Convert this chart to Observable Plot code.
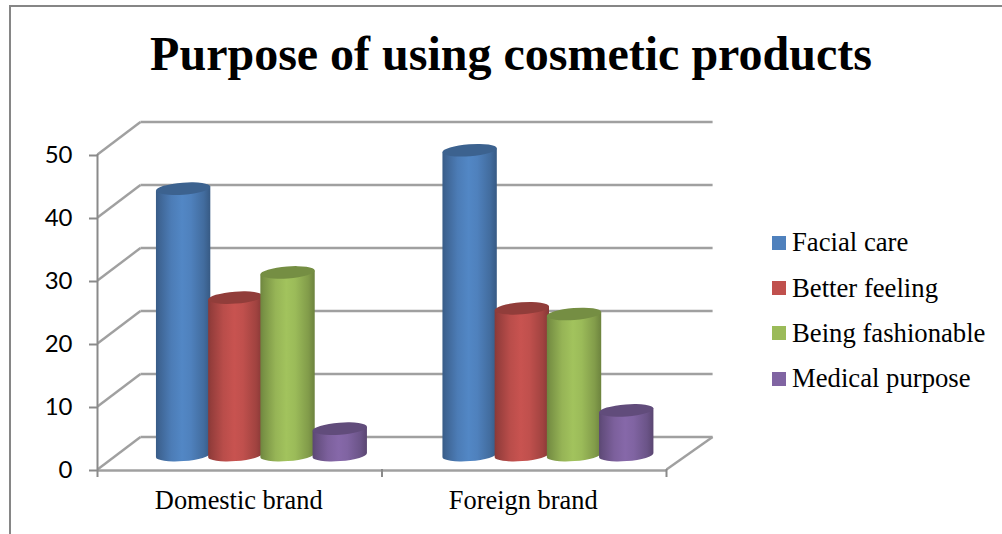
<!DOCTYPE html>
<html>
<head>
<meta charset="utf-8">
<script src="https://cdn.jsdelivr.net/npm/d3@7"></script>
<script src="https://cdn.jsdelivr.net/npm/@observablehq/plot@0.6"></script>
<style>
  html, body { margin: 0; padding: 0; background: #fff; width: 1002px; height: 534px; overflow: hidden; }
  #frame { position: absolute; left: 9px; top: 5px; right: 0; bottom: 0; border-left: 2px solid #868686; border-top: 2px solid #868686; }
  #title { position: absolute; left: 0; top: 27px; width: 1022px; text-align: center; font: bold 48px "Liberation Serif", serif; color: #000; line-height: 54px; }
  #chart { position: absolute; left: 0; top: 0; }
  #legend { position: absolute; left: 772px; top: 220px; font: 26.7px "Liberation Serif", serif; color: #000; }
  #legend div { display: flex; align-items: center; height: 45.4px; white-space: nowrap; }
  #legend i { display: block; width: 14px; height: 14px; margin-right: 6px; }
</style>
</head>
<body>
<div id="frame"></div>
<div id="title">Purpose of using cosmetic products</div>
<div id="chart"></div>
<div id="legend"></div>
<script>
const categories = ["Domestic brand", "Foreign brand"];
const series = ["Facial care", "Better feeling", "Being fashionable", "Medical purpose"];
const colors = ["#4f81bd", "#c0504d", "#9bbb59", "#8064a2"];
const domesticValues = [42.3, 25, 29, 4.2];
const foreignValues = [48.4, 23.3, 22.4, 7.1];
const yTicks = [0, 10, 20, 30, 40, 50];

// Depth of the 3D box, in data units of the x and y scales.
const depthX = 0.151;
const depthY = 5.15;
const wallEnd = 2.162;
// Placement of the cylinders on the middle of the floor.
const floorX = 0.078;
const floorY = 2.2;
const groupStep = 1.007;
const slot = 0.1835;
const cylinderWidth = 0.1916;

const rows = [domesticValues, foreignValues].flatMap((values, c) =>
  values.map((value, s) => ({category: categories[c], c, series: series[s], s, value}))
);
const center = (d) => d.c * groupStep + 0.5 + floorX + (d.s - 1.5) * slot;

const gridColor = "#a0a0a0";
const axisColor = "#8a8a8a";

// Draws each rect as a shaded cylinder with a tilted elliptical cap.
function cylinders(index, scales, values) {
  const g = d3.create("svg:g");
  const defs = g.append("defs");
  const tilt = 4.3;
  const rad = tilt * Math.PI / 180;
  const ry = 6;
  const gradients = new Map();
  const gradientFor = (c) => {
    if (!gradients.has(c)) {
      const id = `side-${gradients.size}`;
      const base = d3.rgb(c);
      const grad = defs.append("linearGradient").attr("id", id).attr("x1", 0).attr("x2", 1).attr("y1", 0).attr("y2", 0);
      [[0, base.darker(0.95)], [0.06, base.darker(0.7)], [0.28, base.darker(0.1)], [0.48, base.brighter(0.12)],
       [0.64, base], [0.88, base.darker(0.5)], [1, base.darker(1)]]
        .forEach(([o, col]) => grad.append("stop").attr("offset", o).attr("stop-color", col.formatHex()));
      gradients.set(c, id);
    }
    return gradients.get(c);
  };
  for (const i of index) {
    const left = values.x1[i], right = values.x2[i];
    const base = values.y1[i], top = values.y2[i];
    const cx = (left + right) / 2, rx = (right - left) / 2;
    const ox = rx * Math.cos(rad), oy = rx * Math.sin(rad);
    const fill = values.fill[i];
    g.append("path")
      .attr("d", `M${cx - ox},${top + oy}L${cx - ox},${base + oy}A${rx},${ry} ${-tilt} 0 0 ${cx + ox},${base - oy}L${cx + ox},${top - oy}Z`)
      .attr("fill", `url(#${gradientFor(fill)})`);
    g.append("ellipse")
      .attr("cx", cx).attr("cy", top).attr("rx", rx).attr("ry", ry)
      .attr("transform", `rotate(${-tilt} ${cx} ${top})`)
      .attr("fill", d3.rgb(fill).darker(0.78).formatHex());
  }
  return g.node();
}

const plot = Plot.plot({
  width: 1002,
  height: 534,
  marginTop: 154,
  marginBottom: 65,
  marginLeft: 97,
  marginRight: 336,
  style: {background: "transparent"},
  x: {domain: [0, 2]},
  y: {domain: [0, 50]},
  color: {domain: series, range: colors},
  marks: [
    // back wall and side wall
    Plot.link(yTicks, {x1: () => depthX, x2: () => wallEnd, y1: (v) => v + depthY, y2: (v) => v + depthY, stroke: gridColor, strokeWidth: 2.4}),
    Plot.link(yTicks, {x1: () => 0, x2: () => depthX, y1: (v) => v, y2: (v) => v + depthY, stroke: gridColor, strokeWidth: 2.4}),
    // floor edges
    Plot.link([0], {x1: () => 0, x2: () => 2, y1: () => -0.15, y2: () => -0.15, stroke: gridColor, strokeWidth: 2.4}),
    Plot.link([0], {x1: () => 2, x2: () => wallEnd, y1: () => 0, y2: () => depthY, stroke: gridColor, strokeWidth: 2.4}),
    Plot.ruleX([0], {y1: 0, y2: 50, stroke: axisColor, strokeWidth: 2}),
    Plot.axisY({ticks: yTicks, tickSize: 8, tickPadding: 17, stroke: axisColor, fill: "#000", strokeWidth: 2,
      fontSize: 24, fontFamily: "Lato", dy: 1, label: null}),
    Plot.axisX({ticks: [0, 1, 2], tickSize: 8, tickFormat: () => "", stroke: axisColor, strokeWidth: 2, label: null}),
    Plot.axisX({ticks: [0.5, 1.5], tickSize: 0, tickPadding: 21, tickFormat: (t) => categories[t - 0.5], fill: "#000",
      fontSize: 26.4, fontFamily: "Liberation Serif", dx: -1, label: null}),
    Plot.rect(rows, {
      x1: (d) => center(d) - cylinderWidth / 2,
      x2: (d) => center(d) + cylinderWidth / 2,
      y1: () => floorY,
      y2: (d) => d.value + floorY,
      fill: "series",
      render: cylinders
    })
  ]
});
document.getElementById("chart").append(plot);

const legend = d3.select("#legend");
series.forEach((name, i) => {
  const row = legend.append("div");
  row.append("i").style("background", colors[i]);
  row.append("span").text(name);
});
</script>
</body>
</html>
